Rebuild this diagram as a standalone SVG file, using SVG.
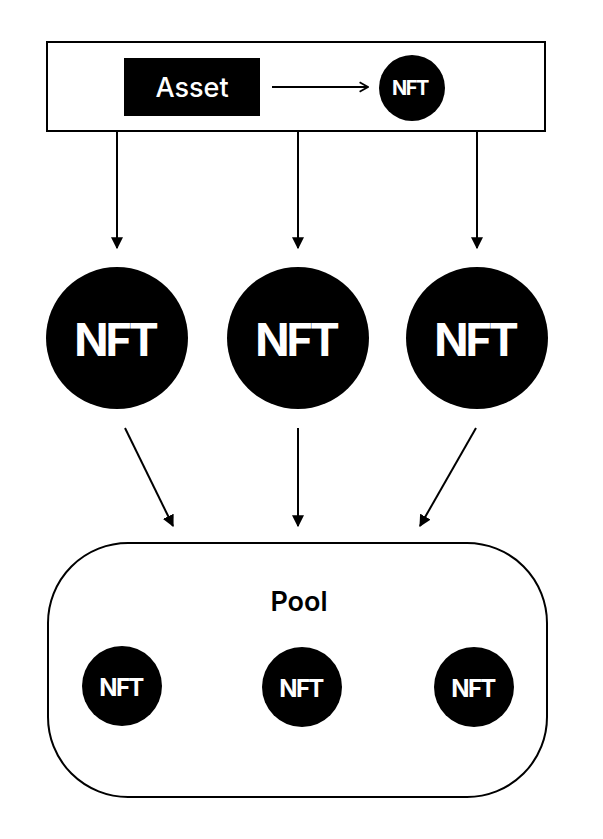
<svg xmlns="http://www.w3.org/2000/svg" width="603" height="839" viewBox="0 0 603 839">
<style>
.frame{fill:#fff;stroke:#000;stroke-width:2}
.dot{fill:#000}
.nft{fill:#fff;font-family:"Inter","Liberation Sans",sans-serif;font-weight:700;text-anchor:middle;dominant-baseline:central;letter-spacing:-0.07em}
.lbl{font-family:"Inter","Liberation Sans",sans-serif;text-anchor:middle;dominant-baseline:central}
.conn line{stroke:#000;stroke-width:2;fill:none}
</style>
<defs>
<marker id="ah" viewBox="0 0 10 10" refX="9" refY="5" markerWidth="6" markerHeight="6" markerUnits="strokeWidth" orient="auto">
<path d="M0,0 L10,5 L0,10 Z" fill="#000"/>
</marker>
<marker id="open" viewBox="0 0 10 10" refX="9" refY="5" markerWidth="6" markerHeight="6" markerUnits="strokeWidth" orient="auto">
<path d="M2,1 L9,5 L2,9" fill="none" stroke="#000" stroke-width="1.5"/>
</marker>
</defs>
<rect width="603" height="839" fill="#fff"/>
<g id="source">
<rect class="frame" x="47" y="42" width="498" height="89"/>
</g>
<g id="asset">
<rect x="124" y="58" width="136" height="58" fill="#000"/>
<text class="lbl" x="192" y="87" font-size="27" fill="#fff" font-weight="500">Asset</text>
</g>
<g id="nft-top">
<circle class="dot" cx="412" cy="88" r="33"/>
<text class="nft" x="410" y="88" font-size="20">NFT</text>
</g>
<g id="nft-1">
<circle class="dot" cx="117" cy="338" r="71"/>
<text class="nft" x="115" y="339" font-size="45">NFT</text>
</g>
<g id="nft-2">
<circle class="dot" cx="298" cy="338" r="71"/>
<text class="nft" x="296" y="339" font-size="45">NFT</text>
</g>
<g id="nft-3">
<circle class="dot" cx="477" cy="338" r="71"/>
<text class="nft" x="475" y="339" font-size="45">NFT</text>
</g>
<g id="pool">
<rect class="frame" x="48" y="543" width="499" height="254" rx="80" ry="80"/>
<text class="lbl" x="299" y="601" font-size="27" font-weight="600" fill="#000">Pool</text>
</g>
<g id="pool-nft-1">
<circle class="dot" cx="122" cy="686" r="40"/>
<text class="nft" x="121" y="687" font-size="24">NFT</text>
</g>
<g id="pool-nft-2">
<circle class="dot" cx="302" cy="687" r="40"/>
<text class="nft" x="301" y="688" font-size="24">NFT</text>
</g>
<g id="pool-nft-3">
<circle class="dot" cx="474" cy="687" r="40"/>
<text class="nft" x="473" y="688" font-size="24">NFT</text>
</g>
<g id="connectors" class="conn">
<line x1="272" y1="87" x2="368" y2="87" marker-end="url(#open)"/>
<line x1="117" y1="131" x2="117" y2="248" marker-end="url(#ah)"/>
<line x1="298" y1="131" x2="298" y2="248" marker-end="url(#ah)"/>
<line x1="477" y1="131" x2="477" y2="248" marker-end="url(#ah)"/>
<line x1="125" y1="428" x2="173" y2="526" marker-end="url(#ah)"/>
<line x1="298" y1="428" x2="298" y2="526" marker-end="url(#ah)"/>
<line x1="476" y1="428" x2="420" y2="526" marker-end="url(#ah)"/>
</g>
</svg>
